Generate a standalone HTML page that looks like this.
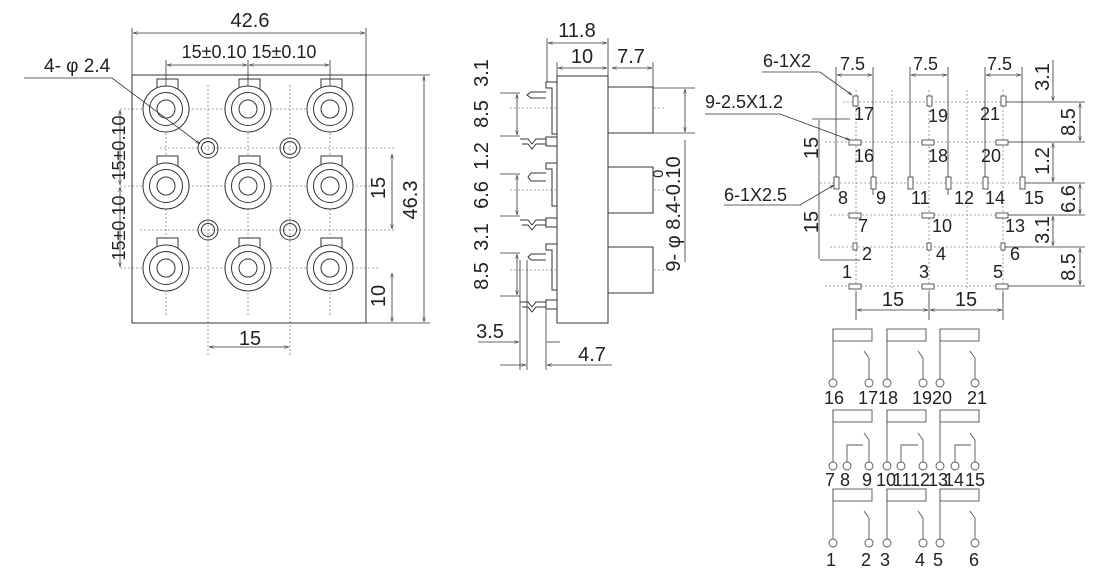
<!DOCTYPE html>
<html><head><meta charset="utf-8"><style>
html,body{margin:0;padding:0;background:#fff;}
svg{display:block;}
text{font-family:"Liberation Sans",sans-serif;fill:#222;}
</style></head><body>
<svg width="1120" height="578" viewBox="0 0 1120 578" xmlns="http://www.w3.org/2000/svg">
<defs>
<marker id="a" viewBox="0 0 10 10" refX="10" refY="5" markerWidth="6" markerHeight="6" orient="auto-start-reverse"><path d="M0,2 L10,5 L0,8" fill="none" stroke="#333"/></marker>
<g id="jack" fill="none" stroke="#333" stroke-width="1">
<rect x="-9" y="-30" width="21" height="10" fill="#fff"/>
<circle r="23" fill="#fff"/><circle r="16.5"/><circle r="9"/>
</g>
<g id="hole" fill="none" stroke="#333"><circle r="10"/><circle r="6.5"/></g>
</defs>

<!-- ===== LEFT VIEW ===== -->
<g stroke="#888" stroke-width="0.8" stroke-dasharray="2,2" fill="none">
<line x1="120" y1="109" x2="345" y2="109"/><line x1="120" y1="186" x2="380" y2="186"/><line x1="120" y1="268" x2="380" y2="268"/>
<line x1="160" y1="148" x2="395" y2="148"/><line x1="140" y1="230" x2="395" y2="230"/>
<line x1="166" y1="85" x2="166" y2="315"/><line x1="248" y1="85" x2="248" y2="315"/><line x1="330" y1="85" x2="330" y2="315"/>
<line x1="208" y1="85" x2="208" y2="355"/><line x1="290" y1="85" x2="290" y2="355"/>
</g>
<rect x="132" y="75" width="234" height="248" fill="none" stroke="#333"/>
<use href="#jack" x="166" y="109"/><use href="#jack" x="248" y="109"/><use href="#jack" x="330" y="109"/>
<use href="#jack" x="166" y="186"/><use href="#jack" x="248" y="186"/><use href="#jack" x="330" y="186"/>
<use href="#jack" x="166" y="268"/><use href="#jack" x="248" y="268"/><use href="#jack" x="330" y="268"/>
<use href="#hole" x="208" y="148"/><use href="#hole" x="290" y="148"/><use href="#hole" x="208" y="230"/><use href="#hole" x="290" y="230"/>
<g stroke="#333" stroke-width="0.8" fill="none">
<line x1="132" y1="28" x2="132" y2="75"/><line x1="366" y1="28" x2="366" y2="75"/>
<line x1="133" y1="33" x2="365" y2="33" marker-start="url(#a)" marker-end="url(#a)"/>
<line x1="166" y1="60" x2="166" y2="86"/><line x1="248" y1="60" x2="248" y2="86"/><line x1="330" y1="60" x2="330" y2="86"/>
<line x1="167" y1="65" x2="247" y2="65" marker-start="url(#a)" marker-end="url(#a)"/>
<line x1="249" y1="65" x2="329" y2="65" marker-start="url(#a)" marker-end="url(#a)"/>
<line x1="120" y1="110" x2="120" y2="185" marker-start="url(#a)" marker-end="url(#a)"/>
<line x1="120" y1="187" x2="120" y2="267" marker-start="url(#a)" marker-end="url(#a)"/>
<line x1="366" y1="75" x2="430" y2="75"/><line x1="366" y1="323" x2="430" y2="323"/>
<line x1="424" y1="76" x2="424" y2="322" marker-start="url(#a)" marker-end="url(#a)"/>
<line x1="392" y1="154" x2="392" y2="229" marker-start="url(#a)" marker-end="url(#a)"/>
<line x1="392" y1="273" x2="392" y2="322" marker-start="url(#a)" marker-end="url(#a)"/>
<line x1="209" y1="347" x2="289" y2="347" marker-start="url(#a)" marker-end="url(#a)"/>
<polyline points="24,78 112,78 200,144" marker-end="url(#a)"/>
</g>
<text x="250" y="27" font-size="20" text-anchor="middle">42.6</text>
<text x="249" y="58" font-size="18" text-anchor="middle">15±0.10 15±0.10</text>
<text x="44" y="72" font-size="19">4- φ 2.4</text>
<text font-size="18" text-anchor="middle" transform="translate(125,148) rotate(-90)">15±0.10</text>
<text font-size="18" text-anchor="middle" transform="translate(125,228) rotate(-90)">15±0.10</text>
<text font-size="20" text-anchor="middle" transform="translate(385,188) rotate(-90)">15</text>
<text font-size="20" text-anchor="middle" transform="translate(417,200) rotate(-90)">46.3</text>
<text font-size="20" text-anchor="middle" transform="translate(385,296) rotate(-90)">10</text>
<text x="250" y="345" font-size="20" text-anchor="middle">15</text>

<!-- ===== MIDDLE VIEW ===== -->
<g stroke="#888" stroke-width="0.8" stroke-dasharray="2,2" fill="none">
<line x1="510" y1="108" x2="665" y2="108"/><line x1="510" y1="190" x2="665" y2="190"/><line x1="510" y1="270" x2="665" y2="270"/>
</g>
<g stroke="#333" stroke-width="1" fill="#fff">
<rect x="557" y="76" width="51" height="247"/>
<rect x="608" y="87" width="45" height="46"/><rect x="608" y="167" width="45" height="46"/><rect x="608" y="247" width="45" height="46"/>
<polyline points="557,82 546,82 546,88 552,88 552,134 557,134" fill="none"/>
<polyline points="557,163 546,163 546,169 552,169 552,206 557,206" fill="none"/>
<polyline points="557,244 546,244 546,250 552,250 552,290 557,290" fill="none"/>
<rect x="546" y="137" width="11" height="9"/><rect x="546" y="218" width="11" height="9"/><rect x="546" y="300" width="11" height="9"/>
<path d="M546,92 L531,92 L527,95 L531,98 L546,98" fill="none"/>
<path d="M546,173 L531,173 L528,177 L531,181 L546,181" fill="none"/>
<path d="M546,254 L531,254 L528,257 L531,260 L546,260" fill="none"/>
<path d="M546,139 L536,139 L532,144 L528,139 L520,139 M546,144 L536,144 L532,149 L528,144 L522,144" fill="none"/>
<path d="M546,220 L536,220 L532,225 L528,220 L520,220 M546,225 L536,225 L532,230 L528,225 L522,225" fill="none"/>
<path d="M546,302 L536,302 L532,307 L528,302 L520,302 M546,307 L536,307 L532,312 L528,307 L522,307" fill="none"/>
</g>
<g stroke="#333" stroke-width="0.8" fill="none">
<line x1="547" y1="38" x2="547" y2="82"/><line x1="608" y1="38" x2="608" y2="76"/><line x1="557" y1="62" x2="557" y2="76"/><line x1="653" y1="62" x2="653" y2="87"/>
<line x1="548" y1="43" x2="607" y2="43" marker-start="url(#a)" marker-end="url(#a)"/>
<line x1="558" y1="68" x2="607" y2="68" marker-start="url(#a)" marker-end="url(#a)"/>
<line x1="612" y1="68" x2="652" y2="68" marker-start="url(#a)" marker-end="url(#a)"/>
<line x1="653" y1="88" x2="695" y2="88"/><line x1="653" y1="133" x2="695" y2="133"/>
<line x1="685" y1="89" x2="685" y2="132" marker-start="url(#a)" marker-end="url(#a)"/>
<line x1="685" y1="140" x2="685" y2="262"/>
<line x1="500" y1="93" x2="520" y2="93"/><line x1="500" y1="136" x2="520" y2="136"/><line x1="500" y1="174" x2="520" y2="174"/><line x1="500" y1="216" x2="520" y2="216"/><line x1="500" y1="253" x2="520" y2="253"/><line x1="500" y1="296" x2="520" y2="296"/>
<line x1="517" y1="94" x2="517" y2="135" marker-start="url(#a)" marker-end="url(#a)"/>
<line x1="517" y1="175" x2="517" y2="215" marker-start="url(#a)" marker-end="url(#a)"/>
<line x1="517" y1="254" x2="517" y2="295" marker-start="url(#a)" marker-end="url(#a)"/>
<line x1="520" y1="260" x2="520" y2="370"/><line x1="527" y1="260" x2="527" y2="370"/><line x1="546" y1="310" x2="546" y2="370"/>
<line x1="478" y1="342" x2="519" y2="342" marker-end="url(#a)"/><line x1="547" y1="342" x2="560" y2="342"/>
<line x1="500" y1="365" x2="526" y2="365" marker-end="url(#a)"/><line x1="547" y1="365" x2="612" y2="365" marker-start="url(#a)"/>
</g>
<text x="577" y="37" font-size="20" text-anchor="middle">11.8</text>
<text x="582" y="63" font-size="20" text-anchor="middle">10</text>
<text x="631" y="63" font-size="20" text-anchor="middle">7.7</text>
<g font-size="20" text-anchor="middle">
<text transform="translate(488,73) rotate(-90)">3.1</text>
<text transform="translate(488,114) rotate(-90)">8.5</text>
<text transform="translate(488,156) rotate(-90)">1.2</text>
<text transform="translate(488,195) rotate(-90)">6.6</text>
<text transform="translate(488,237) rotate(-90)">3.1</text>
<text transform="translate(488,276) rotate(-90)">8.5</text>
<text transform="translate(680,214) rotate(-90)">9- φ 8.4-0.10</text>
</g>
<text font-size="15" transform="translate(663,178) rotate(-90)">0</text>
<text x="490" y="338" font-size="20" text-anchor="middle">3.5</text>
<text x="592" y="361" font-size="20" text-anchor="middle">4.7</text>

<!-- ===== RIGHT VIEW ===== -->
<g stroke="#888" stroke-width="0.8" stroke-dasharray="2,2" fill="none">
<line x1="843" y1="102" x2="1050" y2="102"/><line x1="825" y1="142" x2="1050" y2="142"/><line x1="820" y1="183" x2="1050" y2="183"/>
<line x1="830" y1="215" x2="1030" y2="215"/><line x1="830" y1="247" x2="1030" y2="247"/><line x1="825" y1="286" x2="1040" y2="286"/>
<line x1="856" y1="90" x2="856" y2="300"/><line x1="929" y1="90" x2="929" y2="300"/><line x1="1003" y1="90" x2="1003" y2="300"/>
<line x1="892" y1="90" x2="892" y2="290"/><line x1="967" y1="90" x2="967" y2="290"/>
</g>
<g stroke="#333" stroke-width="0.8" fill="none">
<line x1="836" y1="67" x2="836" y2="178"/><line x1="873" y1="67" x2="873" y2="195"/>
<line x1="910" y1="67" x2="910" y2="178"/><line x1="948" y1="67" x2="948" y2="195"/>
<line x1="985" y1="67" x2="985" y2="178"/><line x1="1022" y1="67" x2="1022" y2="178"/>
<line x1="837" y1="75" x2="872" y2="75" marker-start="url(#a)" marker-end="url(#a)"/>
<line x1="911" y1="75" x2="947" y2="75" marker-start="url(#a)" marker-end="url(#a)"/>
<line x1="986" y1="75" x2="1021" y2="75" marker-start="url(#a)" marker-end="url(#a)"/>
<line x1="812" y1="119" x2="850" y2="119"/><line x1="820" y1="260" x2="860" y2="260"/>
<line x1="819" y1="120" x2="819" y2="259"/>
<line x1="856" y1="292" x2="856" y2="320"/><line x1="929" y1="292" x2="929" y2="320"/><line x1="1003" y1="292" x2="1003" y2="320"/>
<line x1="857" y1="310" x2="928" y2="310" marker-start="url(#a)" marker-end="url(#a)"/>
<line x1="930" y1="310" x2="1002" y2="310" marker-start="url(#a)" marker-end="url(#a)"/>
<line x1="1053" y1="60" x2="1053" y2="101" marker-end="url(#a)"/>
<line x1="1080" y1="103" x2="1080" y2="141" marker-start="url(#a)" marker-end="url(#a)"/>
<line x1="1053" y1="143" x2="1053" y2="182" marker-start="url(#a)" marker-end="url(#a)"/>
<line x1="1080" y1="184" x2="1080" y2="214" marker-start="url(#a)" marker-end="url(#a)"/>
<line x1="1053" y1="216" x2="1053" y2="246" marker-start="url(#a)" marker-end="url(#a)"/>
<line x1="1080" y1="248" x2="1080" y2="285" marker-start="url(#a)" marker-end="url(#a)"/>
<line x1="1005" y1="102" x2="1085" y2="102"/><line x1="1005" y1="142" x2="1085" y2="142"/><line x1="1025" y1="183" x2="1085" y2="183"/>
<line x1="1005" y1="215" x2="1085" y2="215"/><line x1="1005" y1="247" x2="1085" y2="247"/><line x1="1005" y1="286" x2="1085" y2="286"/>
<polyline points="762,72 820,72 852,95" marker-end="url(#a)"/>
<polyline points="705,114 780,114 850,140" marker-end="url(#a)"/>
<polyline points="724,205 800,205 834,185" marker-end="url(#a)"/>
</g>
<g stroke="#333" stroke-width="0.8" fill="#fff">
<rect x="853" y="96" width="5" height="10"/><rect x="927" y="96" width="5" height="10"/><rect x="1001" y="96" width="5" height="10"/>
<rect x="849" y="140" width="12" height="5"/><rect x="922" y="140" width="12" height="5"/><rect x="996" y="140" width="12" height="5"/>
<rect x="834" y="177" width="5" height="12"/><rect x="871" y="177" width="5" height="12"/><rect x="908" y="177" width="5" height="12"/>
<rect x="946" y="177" width="5" height="12"/><rect x="983" y="177" width="5" height="12"/><rect x="1020" y="177" width="5" height="12"/>
<rect x="849" y="213" width="12" height="5"/><rect x="922" y="213" width="12" height="5"/><rect x="996" y="213" width="12" height="5"/>
<rect x="853" y="243" width="4" height="7"/><rect x="927" y="243" width="4" height="7"/><rect x="1001" y="243" width="4" height="7"/>
<rect x="849" y="284" width="12" height="5"/><rect x="922" y="284" width="12" height="5"/><rect x="996" y="284" width="12" height="5"/>
</g>
<g font-size="18">
<text x="763" y="67">6-1X2</text><text x="705" y="108">9-2.5X1.2</text><text x="724" y="201">6-1X2.5</text>
<text x="840" y="70">7.5</text><text x="913" y="70">7.5</text><text x="987" y="70">7.5</text>
<text x="854" y="120">17</text><text x="928" y="122">19</text><text x="980" y="120">21</text>
<text x="854" y="162">16</text><text x="928" y="162">18</text><text x="981" y="162">20</text>
<text x="838" y="204">8</text><text x="876" y="204">9</text><text x="911" y="204">11</text><text x="954" y="204">12</text><text x="985" y="204">14</text><text x="1024" y="204">15</text>
<text x="858" y="232">7</text><text x="932" y="232">10</text><text x="1005" y="232">13</text>
<text x="862" y="260">2</text><text x="936" y="260">4</text><text x="1010" y="260">6</text>
<text x="842" y="278">1</text><text x="919" y="278">3</text><text x="993" y="278">5</text>
</g>
<g font-size="20" text-anchor="middle">
<text x="893" y="306">15</text><text x="966" y="306">15</text>
<text transform="translate(818,148) rotate(-90)">15</text>
<text transform="translate(818,222) rotate(-90)">15</text>
<text transform="translate(1049,77) rotate(-90)">3.1</text>
<text transform="translate(1075,122) rotate(-90)">8.5</text>
<text transform="translate(1049,161) rotate(-90)">1.2</text>
<text transform="translate(1075,199) rotate(-90)">6.6</text>
<text transform="translate(1049,230) rotate(-90)">3.1</text>
<text transform="translate(1075,267) rotate(-90)">8.5</text>
</g>

<!-- ===== SCHEMATIC ===== -->
<g stroke="#555" stroke-width="0.9" fill="#fff">
<rect x="833" y="329" width="39" height="12"/><line x1="833" y1="329" x2="833" y2="379"/><polyline points="869,379 869,358 864,351" fill="none"/>
<circle cx="833" cy="383" r="4"/><circle cx="869" cy="383" r="4"/>
<rect x="887" y="329" width="39" height="12"/><line x1="887" y1="329" x2="887" y2="379"/><polyline points="923,379 923,358 918,351" fill="none"/>
<circle cx="887" cy="383" r="4"/><circle cx="923" cy="383" r="4"/>
<rect x="940" y="329" width="39" height="12"/><line x1="940" y1="329" x2="940" y2="379"/><polyline points="975,379 975,358 970,351" fill="none"/>
<circle cx="940" cy="383" r="4"/><circle cx="975" cy="383" r="4"/>
<rect x="833" y="410" width="39" height="12"/><line x1="833" y1="410" x2="833" y2="462"/><polyline points="869,462 869,440 864,433" fill="none"/>
<polyline points="847,462 847,445 863,445" fill="none"/>
<circle cx="833" cy="466" r="4"/><circle cx="847" cy="466" r="4"/><circle cx="869" cy="466" r="4"/>
<rect x="887" y="410" width="39" height="12"/><line x1="887" y1="410" x2="887" y2="462"/><polyline points="923,462 923,440 918,433" fill="none"/>
<polyline points="901,462 901,445 918,445" fill="none"/>
<circle cx="887" cy="466" r="4"/><circle cx="901" cy="466" r="4"/><circle cx="923" cy="466" r="4"/>
<rect x="940" y="410" width="39" height="12"/><line x1="940" y1="410" x2="940" y2="462"/><polyline points="975,462 975,440 970,433" fill="none"/>
<polyline points="955,462 955,445 971,445" fill="none"/>
<circle cx="940" cy="466" r="4"/><circle cx="955" cy="466" r="4"/><circle cx="975" cy="466" r="4"/>
<rect x="833" y="489" width="39" height="12"/><line x1="833" y1="489" x2="833" y2="539"/><polyline points="869,539 869,518 864,511" fill="none"/>
<circle cx="833" cy="543" r="4"/><circle cx="869" cy="543" r="4"/>
<rect x="887" y="489" width="39" height="12"/><line x1="887" y1="489" x2="887" y2="539"/><polyline points="923,539 923,518 918,511" fill="none"/>
<circle cx="887" cy="543" r="4"/><circle cx="923" cy="543" r="4"/>
<rect x="940" y="489" width="39" height="12"/><line x1="940" y1="489" x2="940" y2="539"/><polyline points="975,539 975,518 970,511" fill="none"/>
<circle cx="940" cy="543" r="4"/><circle cx="975" cy="543" r="4"/>
</g>
<g font-size="18" text-anchor="middle">
<text x="834" y="404">16</text><text x="868" y="404">17</text><text x="888" y="404">18</text><text x="922" y="404">19</text><text x="942" y="404">20</text><text x="977" y="404">21</text>
<text x="830" y="486">7</text><text x="845" y="486">8</text><text x="867" y="486">9</text>
<text x="886" y="486">10</text><text x="902" y="486">11</text><text x="920" y="486">12</text>
<text x="938" y="486">13</text><text x="954" y="486">14</text><text x="975" y="486">15</text>
<text x="831" y="566">1</text><text x="866" y="566">2</text><text x="885" y="566">3</text><text x="920" y="566">4</text><text x="938" y="566">5</text><text x="974" y="566">6</text>
</g>
</svg>
</body></html>
